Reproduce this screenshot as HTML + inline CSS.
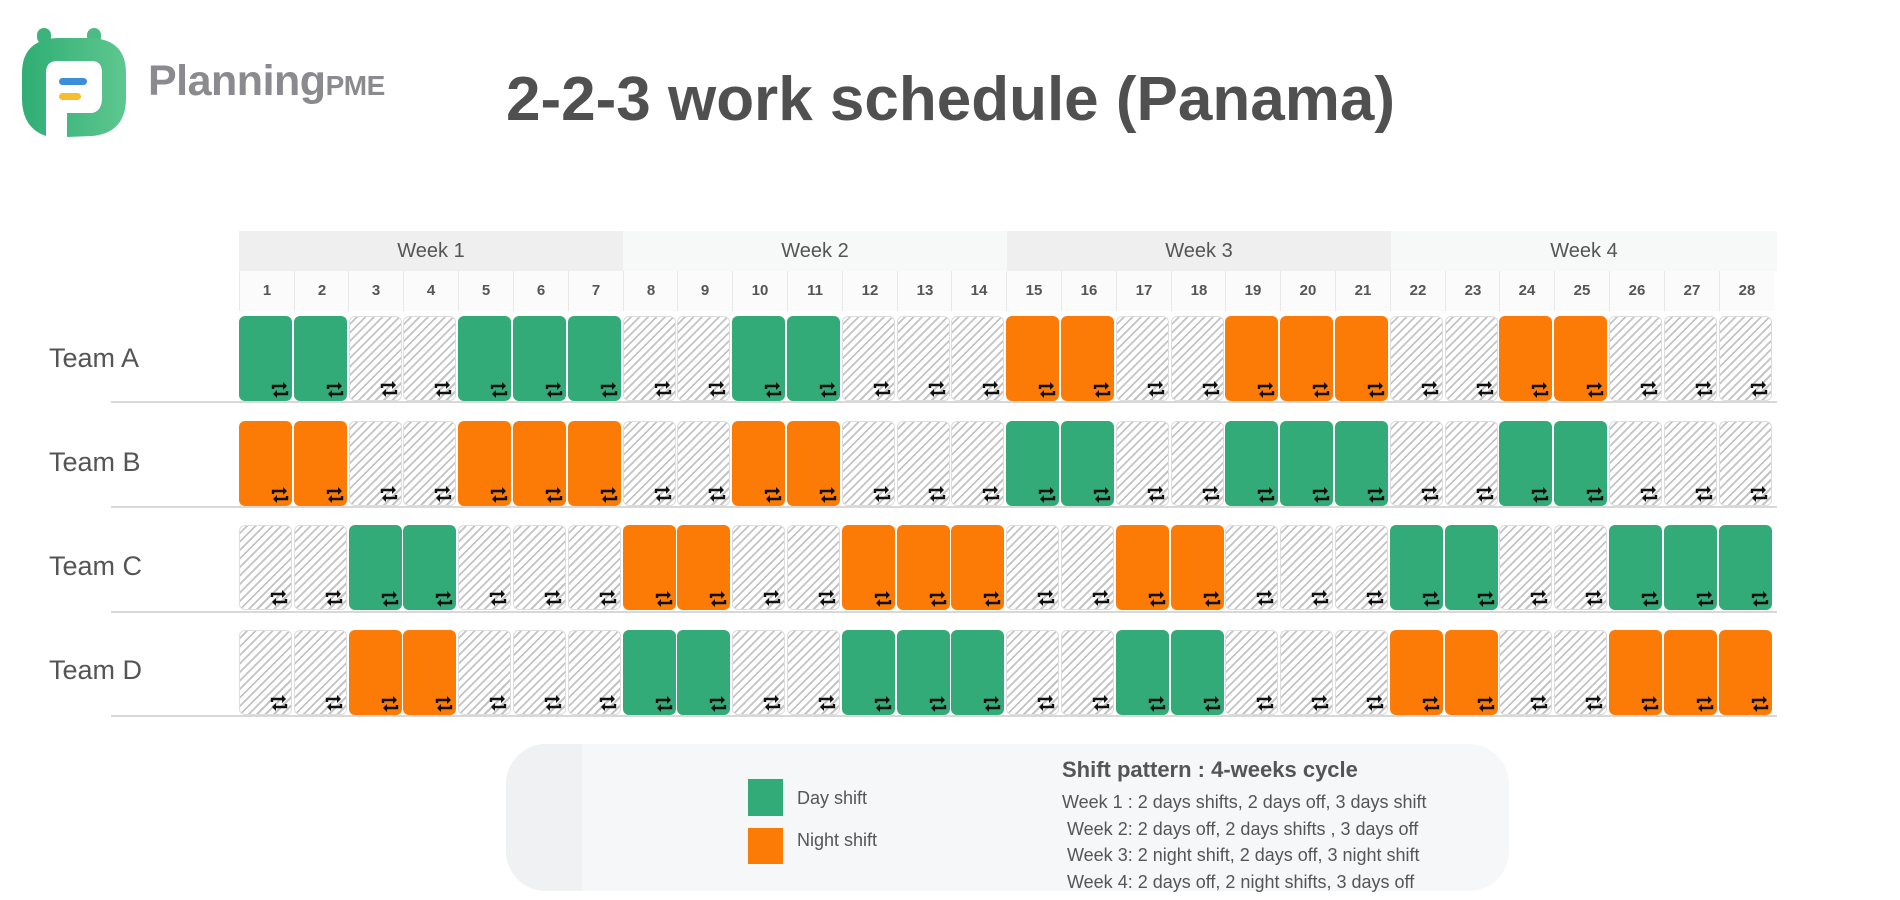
<!DOCTYPE html>
<html><head><meta charset="utf-8"><style>
*{margin:0;padding:0;box-sizing:border-box}
body{width:1900px;height:900px;background:#fff;position:relative;overflow:hidden;font-family:"Liberation Sans",sans-serif;color:#555}
.a{position:absolute}
.wk{position:absolute;top:231px;height:40px;font-size:20px;line-height:40px;text-align:center;color:#555}
.dn{position:absolute;top:271px;height:40px;width:55px;font-size:15px;font-weight:bold;line-height:40px;text-align:center;color:#555;background:#fbfbfb;border-left:1px solid #e8e8e8}
.team{position:absolute;left:49px;font-size:27px;color:#555}
.hl{position:absolute;left:111px;width:1666px;height:2px;background:#d8d8d8}
.c{position:absolute;width:53px;height:85px;border-radius:6px}
.D{background:#33ab79}.N{background:#fb7b06}
.O{background:repeating-linear-gradient(135deg,#fff 0 4px,#c4c4c4 4px 6px);border:1px solid #ddd}
.c svg{position:absolute;right:2px;bottom:2px}
</style></head><body>
<svg class="a" style="left:22px;top:28px" width="104" height="110" viewBox="0 0 104 110">
<defs><linearGradient id="g" x1="0" x2="1"><stop offset="0" stop-color="#2fae74"/><stop offset="1" stop-color="#5ec78f"/></linearGradient></defs>
<rect x="15" y="0" width="14" height="16" rx="7" fill="#3bb37a"/><rect x="65" y="0" width="14" height="16" rx="7" fill="#4cbb85"/>
<path d="M0 45 Q0 12 35 10 L70 10 Q104 12 104 45 L104 70 Q104 105 70 108 L45 109 L45 85 L70 85 Q80 83 80 70 L80 45 Q80 33 70 33 L35 33 Q24 33 24 45 L24 108 Q0 100 0 70Z" fill="url(#g)"/>
<rect x="37" y="50" width="28" height="7" rx="3.5" fill="#3a8fd6"/><rect x="37" y="65" width="22" height="7" rx="3.5" fill="#f5be2e"/>
</svg>
<div class="a" style="left:148px;top:57px;font-size:43px;font-weight:bold;color:#8a8a8f;letter-spacing:-0.5px">Planning<span style="font-size:28px">PME</span></div>
<div class="a" style="left:506px;top:64px;font-size:62px;font-weight:bold;color:#505050;white-space:nowrap">2-2-3 work schedule (Panama)</div>

<div class="wk" style="left:239px;width:384px;background:#efefef">Week 1</div>
<div class="wk" style="left:623px;width:384px;background:#f7f8f8">Week 2</div>
<div class="wk" style="left:1007px;width:384px;background:#efefef">Week 3</div>
<div class="wk" style="left:1391px;width:386px;background:#f7f8f8">Week 4</div>
<div>
<div class="dn" style="left:239px">1</div><div class="dn" style="left:294px">2</div><div class="dn" style="left:348px">3</div><div class="dn" style="left:403px">4</div><div class="dn" style="left:458px">5</div><div class="dn" style="left:513px">6</div><div class="dn" style="left:568px">7</div>
<div class="dn" style="left:623px">8</div><div class="dn" style="left:677px">9</div><div class="dn" style="left:732px">10</div><div class="dn" style="left:787px">11</div><div class="dn" style="left:842px">12</div><div class="dn" style="left:897px">13</div><div class="dn" style="left:951px">14</div>
<div class="dn" style="left:1006px">15</div><div class="dn" style="left:1061px">16</div><div class="dn" style="left:1116px">17</div><div class="dn" style="left:1171px">18</div><div class="dn" style="left:1225px">19</div><div class="dn" style="left:1280px">20</div><div class="dn" style="left:1335px">21</div>
<div class="dn" style="left:1390px">22</div><div class="dn" style="left:1445px">23</div><div class="dn" style="left:1499px">24</div><div class="dn" style="left:1554px">25</div><div class="dn" style="left:1609px">26</div><div class="dn" style="left:1664px">27</div><div class="dn" style="left:1719px">28</div>
</div>
<div class="team" style="top:343px">Team A</div>
<div class="team" style="top:447px">Team B</div>
<div class="team" style="top:551px">Team C</div>
<div class="team" style="top:655px">Team D</div>
<div class="hl" style="top:401px"></div><div class="hl" style="top:506px"></div><div class="hl" style="top:611px"></div><div class="hl" style="top:715px"></div>
<div id="grid"></div>

<div class="a" style="left:506px;top:744px;width:1003px;height:147px;border-radius:40px;background:#f6f7f8;overflow:hidden"><div style="width:76px;height:100%;background:#f0f1f2"></div></div>
<div class="a" style="left:748px;top:779px;width:35px;height:37px;background:#33ab79"></div>
<div class="a" style="left:748px;top:828px;width:35px;height:36px;background:#fb7b06"></div>
<div class="a" style="left:797px;top:788px;font-size:18px;color:#555">Day shift</div>
<div class="a" style="left:797px;top:830px;font-size:18px;color:#555">Night shift</div>
<div class="a" style="left:1062px;top:757px;font-size:22px;font-weight:bold;color:#555">Shift pattern : 4-weeks cycle</div>
<div class="a" style="left:1062px;top:789px;font-size:18px;color:#555;line-height:26.5px;white-space:nowrap">Week 1 : 2 days shifts, 2 days off, 3 days shift<br>&nbsp;Week 2: 2 days off, 2 days shifts , 3 days off<br>&nbsp;Week 3: 2 night shift, 2 days off, 3 night shift<br>&nbsp;Week 4: 2 days off, 2 night shifts, 3 days off</div>
<script>
var A="DDOODDDOODDOOONNOONNNOONNOOO";
function sw(s){return s.replace(/D/g,'x').replace(/N/g,'D').replace(/x/g,'N');}
var C="OODDOOONNOONNNOONNOOODDOODDD";
var rows=[A,sw(A),C,sw(C)],tops=[316,421,525,630];
var ic='<svg width="20" height="18" viewBox="0 0 20 18"><path d="M3 8V5h11" fill="none" stroke="#111" stroke-width="2.4"/><path d="M13 1l4 4-4 4z" fill="#111"/><path d="M17 10v3H6" fill="none" stroke="#111" stroke-width="2.4"/><path d="M7 9l-4 4 4 4z" fill="#111"/></svg>';
var h='';
for(var r=0;r<4;r++)for(var i=0;i<28;i++){
 var x=239+i*54.8;
 h+='<div class="c '+rows[r][i]+'" style="left:'+x.toFixed(1)+'px;top:'+tops[r]+'px">'+ic+'</div>';
}
document.getElementById('grid').innerHTML=h;
</script>
</body></html>
